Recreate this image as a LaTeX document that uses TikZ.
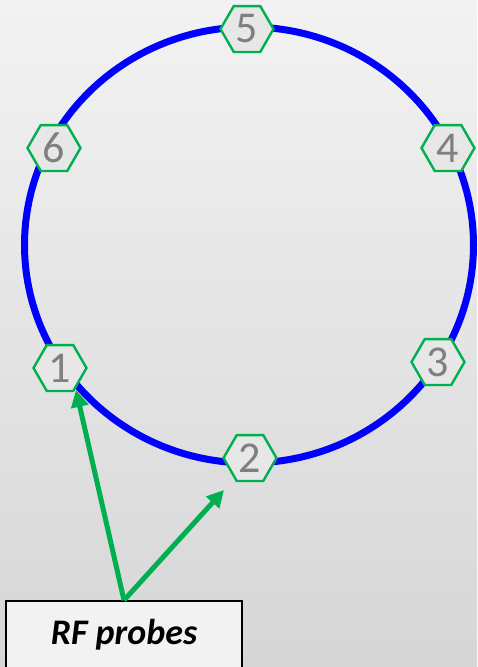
\documentclass[tikz,border=0pt]{standalone}
\usepackage{fontspec}
\setmainfont{Carlito}
\usetikzlibrary{shapes.geometric,arrows.meta}
\definecolor{ringblue}{HTML}{0000FF}
\definecolor{probegreen}{HTML}{00B050}
\definecolor{hexfill}{HTML}{E7E7E7}
\definecolor{digitgray}{HTML}{7F7F7F}
\definecolor{boxfill}{HTML}{F2F2F2}
\tikzset{
  hexnode/.style={regular polygon, regular polygon sides=6, minimum size=53pt, inner sep=0pt,
    draw=probegreen, line width=2.4pt, fill=hexfill, text=digitgray, font=\fontsize{44}{44}\selectfont},
  probearrow/.style={draw=probegreen, line width=5pt, -{Triangle[length=17pt,width=17pt]}},
  labelbox/.style={draw=black, line width=1.5pt, fill=boxfill, minimum width=236pt, minimum height=67pt,
    inner sep=0pt, font=\fontsize{36}{36}\selectfont\bfseries\itshape}
}
\begin{document}
\begin{tikzpicture}[x=1pt,y=-1pt]
\useasboundingbox (0,0) rectangle (477,667);
\shade[top color=white!95!black, bottom color=white!84!black] (0,0) rectangle (477,667);
\draw[ringblue, line width=7pt] (249,245) ellipse [x radius=224.5, y radius=218];
\node[hexnode] (h5) at (247,29) {5};
\node[hexnode] (h6) at (54,148) {6};
\node[hexnode] (h4) at (448,148) {4};
\node[hexnode] (h1) at (60,368) {1};
\node[hexnode] (h3) at (438,362) {3};
\node[hexnode] (h2) at (250,458) {2};
\node[labelbox] (box) at (124,634.5) {RF probes};
\coordinate (t1) at (76,390);
\coordinate (t2) at (224,490);
\draw[probearrow] (box.north) -- (t1);
\draw[probearrow] (box.north) -- (t2);
\end{tikzpicture}
\end{document}
